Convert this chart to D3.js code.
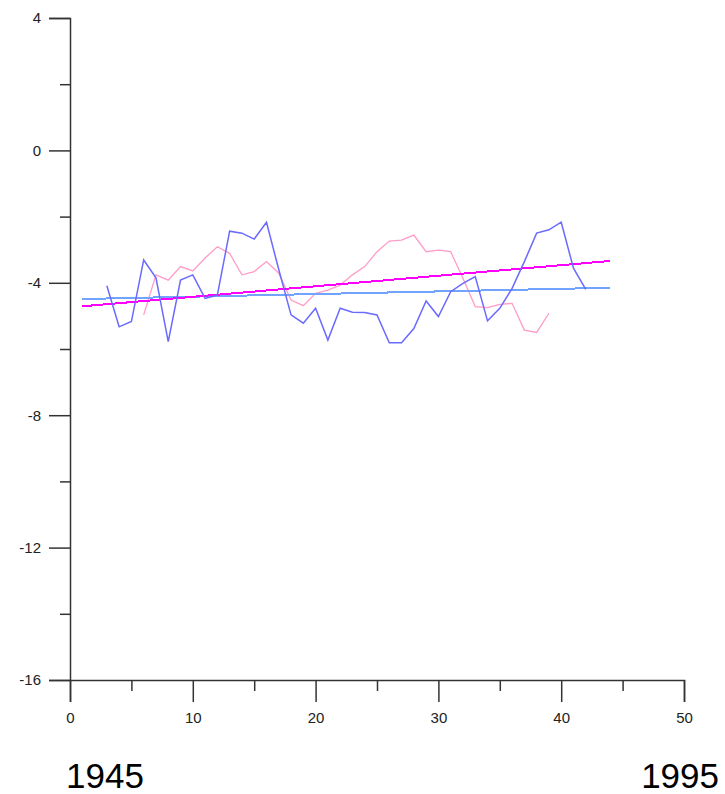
<!DOCTYPE html>
<html>
<head>
<meta charset="utf-8">
<script src="https://cdn.jsdelivr.net/npm/d3@7"></script>
<style>
  html, body { margin: 0; padding: 0; background: #fff; }
  svg { display: block; }
  .tick text { font-family: "Liberation Sans", Arial, sans-serif; }
</style>
</head>
<body>
<div id="chart"></div>
<script>
// Series start positions on the x axis (years since 1945)
const blueStart = 3;
const blueValues = [-4.09, -5.33, -5.17, -3.31, -3.85, -5.78, -3.92, -3.76, -4.47, -4.37,
  -2.44, -2.5, -2.68, -2.17, -3.6, -4.97, -5.22, -4.77, -5.73, -4.77,
  -4.89, -4.9, -4.97, -5.81, -5.81, -5.38, -4.55, -5.02, -4.27, -4.02,
  -3.81, -5.15, -4.77, -4.17, -3.36, -2.5, -2.4, -2.17, -3.56, -4.2];

const pinkStart = 6;
const pinkValues = [-4.97, -3.76, -3.92, -3.51, -3.64, -3.25, -2.91, -3.11, -3.76, -3.66,
  -3.36, -3.71, -4.52, -4.69, -4.32, -4.22, -4.07, -3.76, -3.51, -3.06,
  -2.74, -2.71, -2.56, -3.06, -3.01, -3.06, -3.86, -4.72, -4.75, -4.65,
  -4.62, -5.43, -5.5, -4.92];

// Linear trend lines: [x, y] end points
const magentaTrend = [[1, -4.71], [44, -3.34]];
const lightBlueTrend = [[1, -4.49], [44, -4.15]];

// Axis ticks
const xMajorTicks = [0, 10, 20, 30, 40, 50];
const xMinorTicks = [5, 15, 25, 35, 45];
const yMajorTicks = [4, 0, -4, -8, -12, -16];
const yMinorTicks = [2, -2, -6, -10, -14];

// Year captions under the axis ends
const yearLabels = ["1945", "1995"];

const W = 725, H = 794;
const svg = d3.select("#chart").append("svg")
  .attr("width", W).attr("height", H);

const x = d3.scaleLinear().domain([0, 50]).range([70, 684]);
const y = d3.scaleLinear().domain([-16, 4]).range([680, 18]);

const axisColor = "#333";
const labelFont = "\"Liberation Sans\", Arial, sans-serif";

// Y axis: major ticks labelled, minor ticks shorter
const yAxis = svg.append("g").attr("transform", `translate(${x(0)},0)`)
  .call(d3.axisLeft(y).tickValues(yMajorTicks).tickSize(21).tickPadding(8)
    .tickFormat(d => d < 0 ? "-" + Math.abs(d) : d3.format("d")(d)));
yAxis.select(".domain").attr("stroke", axisColor).attr("stroke-width", 1.5);
yAxis.selectAll(".tick line").attr("stroke", axisColor).attr("stroke-width", 1.5);
yAxis.selectAll(".tick text").attr("fill", "#222").attr("font-size", 15)
  .attr("font-family", labelFont);

const yMinor = svg.append("g").attr("transform", `translate(${x(0)},0)`)
  .call(d3.axisLeft(y).tickValues(yMinorTicks).tickSize(10).tickFormat(""));
yMinor.select(".domain").remove();
yMinor.selectAll(".tick line").attr("stroke", axisColor).attr("stroke-width", 1.5);

// X axis
const xAxis = svg.append("g").attr("transform", `translate(0,${y(-16)})`)
  .call(d3.axisBottom(x).tickValues(xMajorTicks).tickSize(22).tickPadding(10)
    .tickFormat(d3.format("d")));
xAxis.select(".domain").attr("stroke", axisColor).attr("stroke-width", 1.5);
xAxis.selectAll(".tick line").attr("stroke", axisColor).attr("stroke-width", 1.5);
xAxis.selectAll(".tick text").attr("fill", "#222").attr("font-size", 15)
  .attr("font-family", labelFont);

const xMinor = svg.append("g").attr("transform", `translate(0,${y(-16)})`)
  .call(d3.axisBottom(x).tickValues(xMinorTicks).tickSize(11).tickFormat(""));
xMinor.select(".domain").remove();
xMinor.selectAll(".tick line").attr("stroke", axisColor).attr("stroke-width", 1.5);

// Data lines
const line = d3.line().x(d => x(d[0])).y(d => y(d[1]));

const pinkPts = pinkValues.map((v, i) => [pinkStart + i, v]);
const bluePts = blueValues.map((v, i) => [blueStart + i, v]);

svg.append("path").datum(pinkPts)
  .attr("d", line).attr("fill", "none")
  .attr("stroke", "#ff9cc8").attr("stroke-width", 1.3);

svg.append("path").datum(lightBlueTrend)
  .attr("d", line).attr("fill", "none")
  .attr("stroke", "#72a4ff").attr("stroke-width", 2)
  .attr("shape-rendering", "crispEdges");

svg.append("path").datum(magentaTrend)
  .attr("d", line).attr("fill", "none")
  .attr("stroke", "#ff00ff").attr("stroke-width", 2)
  .attr("shape-rendering", "crispEdges");

svg.append("path").datum(bluePts)
  .attr("d", line).attr("fill", "none")
  .attr("stroke", "#6a6aff").attr("stroke-width", 1.5);

// Year captions
svg.append("text").attr("x", 66).attr("y", 788)
  .attr("font-family", labelFont).attr("font-size", 35).attr("fill", "#000")
  .text(yearLabels[0]);
svg.append("text").attr("x", 719).attr("y", 788).attr("text-anchor", "end")
  .attr("font-family", labelFont).attr("font-size", 35).attr("fill", "#000")
  .text(yearLabels[1]);
</script>
</body>
</html>
